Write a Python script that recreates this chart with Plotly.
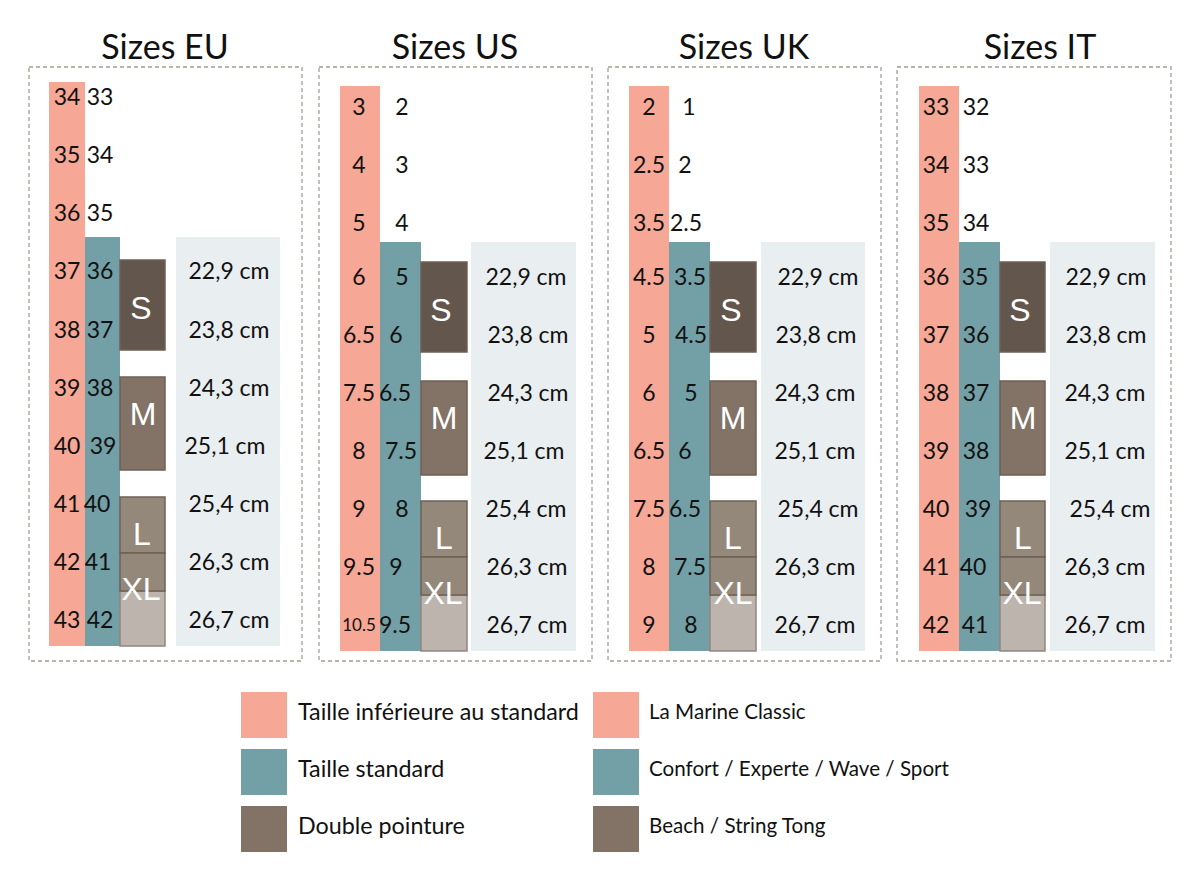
"""Guide des tailles : EU / US / UK / IT."""

import plotly.graph_objects as go

# ---- données ----
eu_low = ["34", "35", "36", "37", "38", "39", "40", "41", "42", "43"]
eu_std = ["33", "34", "35", "36", "37", "38", "39", "40", "41", "42"]
us_low = ["3", "4", "5", "6", "6.5", "7.5", "8", "9", "9.5", "10.5"]
us_std = ["2", "3", "4", "5", "6", "6.5", "7.5", "8", "9", "9.5"]
uk_low = ["2", "2.5", "3.5", "4.5", "5", "6", "6.5", "7.5", "8", "9"]
uk_std = ["1", "2", "2.5", "3.5", "4.5", "5", "6", "6.5", "7.5", "8"]
it_low = ["33", "34", "35", "36", "37", "38", "39", "40", "41", "42"]
it_std = ["32", "33", "34", "35", "36", "37", "38", "39", "40", "41"]
foot_cm = ["22,9 cm", "23,8 cm", "24,3 cm", "25,1 cm", "25,4 cm", "26,3 cm", "26,7 cm"]
size_names = ["S", "M", "L", "XL"]
legend_left = ["Taille inférieure au standard", "Taille standard", "Double pointure"]
legend_right = ["La Marine Classic", "Confort / Experte / Wave / Sport", "Beach / String Tong"]

# ---- couleurs ----
SALMON = "#f6a795"
TEAL = "#73a0a6"
PALE = "#e9eef0"
BROWN_S = "#63564d"
BROWN_M = "#837266"
BROWN_L = "#93887a"
BROWN_XL = "#bdb4ae"
EDGE = "#6f6055"
EDGE_XL = "#93877e"
DASH = "#a89c94"
INK = "#111111"
LEGEND_COLORS = [SALMON, TEAL, BROWN_M]

FONT = "Lato"
TEXT_NUDGE = 2  # Lato est un peu haut par rapport au centre du texte

# ---- mise en page : un repère en pixels, origine en haut à gauche ----
ROWS_EU = [97, 155, 213, 271, 330, 388, 446, 504, 562, 620]
ROWS_OTHER = [107, 165, 223, 277, 335, 393, 451, 509, 567, 625]
BLOCKS_EU = dict(top=82, teal=237, s=(260, 350), m=(377, 470), l=(497, 553), xl=(553, 591), end=646)
BLOCKS_OTHER = dict(top=86, teal=242, s=(262, 352), m=(381, 475), l=(501, 557), xl=(557, 595), end=651)

panels = [
    dict(title="Sizes EU", title_x=165, box=(29, 302), low=eu_low, std=eu_std, rows=ROWS_EU, blocks=BLOCKS_EU,
         low_col=(49, 85), std_col=(85, 120), size_col=(120, 165), pale_col=(176, 280),
         low_x=[67] * 10, std_x=[100, 100, 100, 100, 100, 100, 103, 97, 98, 100],
         cm_x=[229, 229, 229, 225, 229, 229, 229], size_x=[141, 143, 142, 141]),
    dict(title="Sizes US", title_x=455, box=(319, 592), low=us_low, std=us_std, rows=ROWS_OTHER, blocks=BLOCKS_OTHER,
         low_col=(340, 380), std_col=(380, 421), size_col=(421, 467), pale_col=(471, 576),
         low_x=[359] * 10, std_x=[402, 402, 402, 402, 396, 395, 401, 402, 396, 395],
         cm_x=[526, 528, 528, 524, 526, 527, 527], size_x=[441, 444, 444, 443]),
    dict(title="Sizes UK", title_x=744, box=(608, 881), low=uk_low, std=uk_std, rows=ROWS_OTHER, blocks=BLOCKS_OTHER,
         low_col=(629, 669), std_col=(669, 710), size_col=(710, 756), pale_col=(761, 865),
         low_x=[649] * 10, std_x=[689, 685, 686, 690, 691, 691, 685, 685, 690, 691],
         cm_x=[818, 816, 815, 815, 818, 815, 815], size_x=[731, 733, 733, 733]),
    dict(title="Sizes IT", title_x=1040, box=(897, 1171), low=it_low, std=it_std, rows=ROWS_OTHER, blocks=BLOCKS_OTHER,
         low_col=(919, 959), std_col=(959, 1000), size_col=(1000, 1045), pale_col=(1050, 1155),
         low_x=[936] * 10, std_x=[976, 976, 976, 975, 976, 976, 976, 978, 973, 975],
         cm_x=[1106, 1106, 1105, 1105, 1110, 1105, 1105], size_x=[1020, 1023, 1023, 1022]),
]

fig = go.Figure()


def add_block(x_span, y_span, fill, edge=None):
    """Ajoute un rectangle en coordonnées d'axes."""
    fig.add_shape(
        type="rect", xref="x", yref="y",
        x0=x_span[0], x1=x_span[1], y0=y_span[0], y1=y_span[1],
        fillcolor=fill,
        line=dict(color=edge, width=1.5) if edge else dict(width=0),
        layer="below",
    )


def add_text(xs, ys, labels, size, color=INK, family=FONT, position="middle center"):
    fig.add_trace(go.Scatter(
        x=xs, y=[y + TEXT_NUDGE for y in ys], text=labels, mode="text",
        textposition=position,
        textfont=dict(family=family, size=size, color=color),
        hoverinfo="skip",
    ))


for p in panels:
    b = p["blocks"]
    fig.add_shape(
        type="rect", xref="x", yref="y",
        x0=p["box"][0], x1=p["box"][1], y0=67, y1=661,
        line=dict(color=DASH, width=1.3, dash="4px,3px"),
        layer="below",
    )
    add_block(p["low_col"], (b["top"], b["end"]), SALMON)
    add_block(p["std_col"], (b["teal"], b["end"]), TEAL)
    add_block(p["pale_col"], (b["teal"], b["end"]), PALE)
    add_block(p["size_col"], b["s"], BROWN_S, EDGE)
    add_block(p["size_col"], b["m"], BROWN_M, EDGE)
    add_block(p["size_col"], (b["xl"][1], b["end"]), BROWN_XL, EDGE_XL)
    add_block(p["size_col"], b["l"], BROWN_L, EDGE)
    add_block(p["size_col"], b["xl"], BROWN_L, EDGE)

    add_text([p["title_x"]], [48], [p["title"]], 34)

    # Le 10.5 est composé plus petit dans l'original
    small = [i for i, v in enumerate(p["low"]) if len(v) > 3]
    normal = [i for i in range(len(p["low"])) if i not in small]
    add_text([p["low_x"][i] for i in normal], [p["rows"][i] for i in normal], [p["low"][i] for i in normal], 23)
    if small:
        add_text([p["low_x"][i] for i in small], [p["rows"][i] for i in small], [p["low"][i] for i in small], 17)
    add_text(p["std_x"], p["rows"], p["std"], 23)
    add_text(p["cm_x"], p["rows"][3:], foot_cm, 23)

    size_y = [b["s"][0] + 49, b["m"][0] + 38, b["l"][0] + 38, b["xl"][1] - 1]
    add_text(p["size_x"], size_y, size_names, 32, color="white", family="Liberation Sans")

# ---- légende ----
legend_rows = [(692, 738), (749, 795), (806, 852)]
legend_y = [712, 769, 826]
for span, color in zip(legend_rows, LEGEND_COLORS):
    add_block((241, 287), span, color)
    add_block((593, 639), span, color)
add_text([298] * 3, legend_y, legend_left, 23.3, position="middle right")
add_text([649] * 3, legend_y, legend_right, 20.6, position="middle right")

fig.update_layout(
    width=1200, height=881,
    margin=dict(l=0, r=0, t=0, b=0),
    paper_bgcolor="white", plot_bgcolor="white",
    showlegend=False,
    xaxis=dict(range=[0, 1200], visible=False, fixedrange=True),
    yaxis=dict(range=[881, 0], visible=False, fixedrange=True),
)

fig.write_html("out.html", config=dict(displayModeBar=False), post_script="document.body.style.margin='0';")
